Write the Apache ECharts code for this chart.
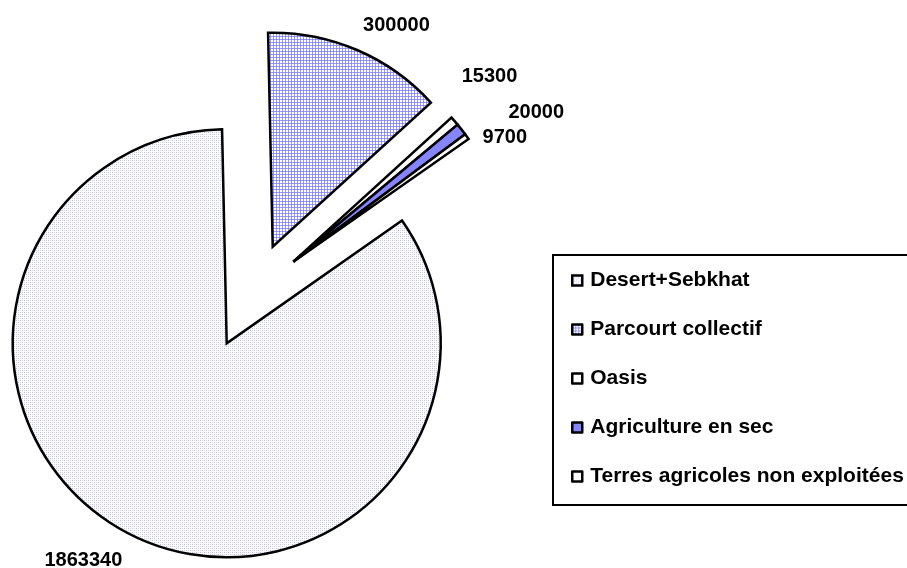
<!DOCTYPE html>
<html>
<head>
<meta charset="utf-8">
<script src="https://cdn.jsdelivr.net/npm/echarts@6/dist/echarts.min.js"></script>
<style>
  html, body { margin: 0; padding: 0; background: #fff; }
  #chart { width: 907px; height: 568px; }
</style>
</head>
<body>
<div id="chart"></div>
<script>
// Land-use areas
const categories = ['Desert+Sebkhat', 'Parcourt collectif', 'Oasis', 'Agriculture en sec', 'Terres agricoles non exploitées'];
const values = [1863340, 300000, 15300, 20000, 9700];

// Slices that are pulled out of the pie together
const groups = [[0], [1], [2, 3, 4]];
const groupCenters = [[226.7, 343.3], [272.7, 246.7], [293.3, 261.7]];
const pieRadius = 214;

// Per-label nudges (px) after the library's outside placement
const labelNudge = [[10, 1], [-10, 1], [-19, -26], [20, 0], [-12, 17]];

function makePattern(size, paint) {
  const c = document.createElement('canvas');
  c.width = size; c.height = size;
  const g = c.getContext('2d');
  g.fillStyle = '#ffffff';
  g.fillRect(0, 0, size, size);
  paint(g);
  return { image: c, repeat: 'repeat' };
}

// fine lavender dither
const desertFill = makePattern(4, g => {
  g.fillStyle = '#bcbcf2';
  g.fillRect(0, 0, 1, 1); g.fillRect(2, 2, 1, 1);
  g.fillStyle = '#d8d8f8';
  g.fillRect(2, 0, 1, 1); g.fillRect(0, 2, 1, 1);
});
// blue grid
const parcourtFill = makePattern(3, g => {
  g.fillStyle = '#9a9aff';
  g.fillRect(0, 0, 3, 1); g.fillRect(0, 0, 1, 3);
  g.fillStyle = '#7b7bf5';
  g.fillRect(0, 0, 1, 1);
});
const oasisFill = makePattern(4, g => {
  g.fillStyle = '#ececfc';
  g.fillRect(0, 0, 1, 1);
});
const agriFill = '#8585ff';
const terresFill = '#ffffff';
const fills = [desertFill, parcourtFill, oasisFill, agriFill, terresFill];

const fontBase = { fontFamily: 'Liberation Sans, Arial, sans-serif', fontWeight: 'bold', color: '#000' };

const series = groups.map((members, gi) => ({
  type: 'pie',
  center: groupCenters[gi],
  radius: pieRadius,
  startAngle: 35,
  clockwise: true,
  avoidLabelOverlap: false,
  animation: false,
  label: Object.assign({ show: true, position: 'outside', formatter: '{c}', fontSize: 20 }, fontBase),
  labelLine: { show: false, length: 28, length2: 0 },
  labelLayout: params => {
    const n = labelNudge[params.dataIndex];
    return { dx: n[0], dy: n[1] };
  },
  emphasis: { disabled: true },
  data: categories.map((name, i) => {
    const own = members.indexOf(i) >= 0;
    return own ? {
      name, value: values[i],
      itemStyle: { color: fills[i], borderColor: '#000', borderWidth: 2.5, borderJoin: 'miter' }
    } : {
      name, value: values[i],
      itemStyle: { color: 'rgba(0,0,0,0)', borderWidth: 0 },
      label: { show: false }
    };
  })
}));

const chart = echarts.init(document.getElementById('chart'), null, { renderer: 'canvas' });
chart.setOption({
  backgroundColor: '#ffffff',
  legend: {
    orient: 'vertical',
    left: 553,
    top: 255,
    padding: [15, 200, 18, 18],
    borderColor: '#000',
    borderWidth: 2,
    itemWidth: 10,
    itemHeight: 10,
    itemGap: 28,
    icon: 'rect',
    selectedMode: false,
    textStyle: Object.assign({ padding: [0, 0, 0, 3], fontSize: 21 }, fontBase),
    data: categories.map((name, i) => ({
      name,
      itemStyle: { color: fills[i], borderColor: '#000', borderWidth: 2.5 }
    }))
  },
  series
});
</script>
</body>
</html>
